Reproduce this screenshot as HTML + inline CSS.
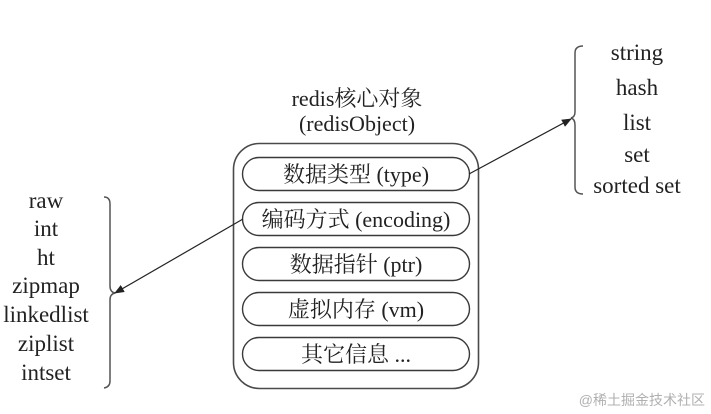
<!DOCTYPE html>
<html><head><meta charset="utf-8"><style>
html,body{margin:0;padding:0;background:#fff;}
svg{display:block;}
.s{font-family:"Liberation Serif","Noto Serif CJK SC","Noto Serif CJK JP",serif;fill:#222;}
</style></head><body>
<svg width="711" height="414" viewBox="0 0 711 414" xmlns="http://www.w3.org/2000/svg" font-family="'Liberation Serif','Noto Serif CJK SC',serif">
<defs>
<marker id="ah" markerWidth="10" markerHeight="8" refX="9" refY="4" orient="auto" markerUnits="userSpaceOnUse">
<path d="M0,0 L10,4 L0,8 Z" fill="#222"/>
</marker>
</defs>
<rect width="711" height="414" fill="#fff"/>
<!-- title -->
<g class="s" font-size="22" text-anchor="middle">
<text x="357" y="106">redis核心对象</text>
<text x="357" y="131">(redisObject)</text>
</g>
<!-- outer box -->
<rect x="233.5" y="143.5" width="245" height="245" rx="26" ry="26" fill="none" stroke="#4a4a4a" stroke-width="1.6"/>
<!-- pills -->
<g fill="none" stroke="#3a3a3a" stroke-width="1.4">
<rect x="242.5" y="157.5" width="227" height="33" rx="16.5"/>
<rect x="242.5" y="202.5" width="227" height="33" rx="16.5"/>
<rect x="242.5" y="247.5" width="227" height="33" rx="16.5"/>
<rect x="242.5" y="292.5" width="227" height="33" rx="16.5"/>
<rect x="242.5" y="337.5" width="227" height="33" rx="16.5"/>
</g>
<g class="s" font-size="22" text-anchor="middle">
<text x="356" y="182">数据类型 (type)</text>
<text x="356" y="227">编码方式 (encoding)</text>
<text x="356" y="272">数据指针 (ptr)</text>
<text x="356" y="317">虚拟内存 (vm)</text>
<text x="356" y="362">其它信息 ...</text>
</g>
<!-- left list -->
<g class="s" font-size="23" text-anchor="middle">
<text x="46" y="208">raw</text>
<text x="46" y="236">int</text>
<text x="46" y="265">ht</text>
<text x="46" y="293">zipmap</text>
<text x="46" y="322">linkedlist</text>
<text x="46" y="351">ziplist</text>
<text x="46" y="380">intset</text>
</g>
<!-- right list -->
<g class="s" font-size="23" text-anchor="middle">
<text x="637" y="60">string</text>
<text x="637" y="95">hash</text>
<text x="637" y="130">list</text>
<text x="637" y="162">set</text>
<text x="637" y="193">sorted set</text>
</g>
<!-- braces -->
<g fill="none" stroke="#555" stroke-width="1.5">
<path d="M104,197 Q110,197 110,204 L110,286 Q110,292 115,293 Q110,294 110,300 L110,381 Q110,387 104,388"/>
<path d="M583,46 Q575,46 575,53 L575,112 Q575,117 571,118 Q575,119 575,125 L575,187 Q575,194 583,194"/>
</g>
<!-- arrows -->
<line x1="469" y1="174" x2="571" y2="119" stroke="#222" stroke-width="1.2" marker-end="url(#ah)"/>
<line x1="243" y1="219" x2="115" y2="293" stroke="#222" stroke-width="1.2" marker-end="url(#ah)"/>
<!-- watermark -->
<text x="705" y="405" font-size="14" text-anchor="end" font-family="'Liberation Sans','Noto Sans CJK SC',sans-serif" fill="#b0b0b0">@稀土掘金技术社区</text>
</svg>
</body></html>
